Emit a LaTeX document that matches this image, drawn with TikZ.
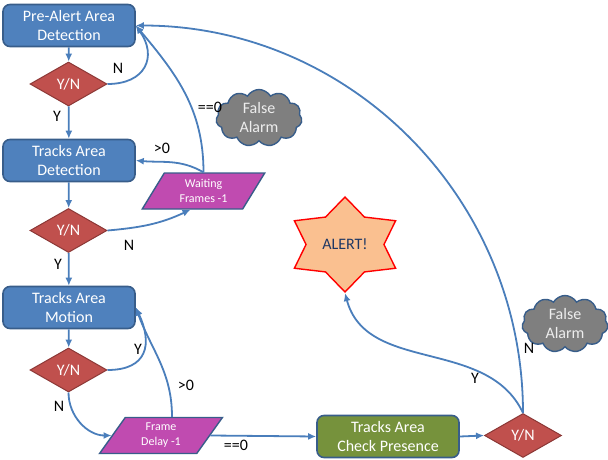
\documentclass[tikz,border=0pt]{standalone}
\usepackage{fontspec}
\setmainfont{Carlito}
\usetikzlibrary{calc,shapes.geometric,shapes.symbols,arrows.meta}

\definecolor{boxblue}{HTML}{4F81BD}
\definecolor{boxline}{HTML}{385D8A}
\definecolor{dmdred}{HTML}{C0504D}
\definecolor{dmdline}{HTML}{8C3836}
\definecolor{iomag}{HTML}{C04BB0}
\definecolor{chkgreen}{HTML}{76923C}
\definecolor{cloudgray}{HTML}{7F7F7F}
\definecolor{cloudtext}{HTML}{EDEDED}
\definecolor{starfill}{HTML}{FAC090}
\definecolor{wire}{HTML}{4A7EBB}
\definecolor{alertink}{HTML}{1F3864}

\tikzset{
	procbox/.style={draw=boxline, fill=boxblue, line width=1.6pt, rounded corners=7pt,
		minimum width=132pt, minimum height=42pt, inner sep=0pt, align=center,
		text=white, font=\fontsize{16}{19}\selectfont},
	chkbox/.style={procbox, fill=chkgreen, minimum width=142pt},
	yesno/.style={diamond, draw=dmdline, fill=dmdred, line width=1pt, inner sep=0pt,
		minimum width=77pt, minimum height=44pt, text=white, font=\fontsize{16}{19}\selectfont},
	iobox/.style={trapezium, trapezium left angle=60, trapezium right angle=120,
		trapezium stretches=true, draw=boxline, fill=iomag, line width=1.4pt, inner sep=0pt,
		minimum width=123pt, minimum height=36pt, align=center, text=white,
		font=\fontsize{12}{15}\selectfont},
	falsebox/.style={cloud, cloud puffs=11, cloud puff arc=120, aspect=1.5, draw=boxline,
		fill=cloudgray, line width=1.4pt, inner sep=0pt, minimum width=86pt, minimum height=57pt,
		align=center, text=cloudtext, font=\fontsize{16}{19}\selectfont},
	alertstar/.style={star, star points=6, star point ratio=1.5, draw=red, fill=starfill,
		line width=1.4pt, inner sep=0pt, minimum size=95pt, xscale=1.23},
	lbl/.style={inner sep=0pt, font=\fontsize{16}{18}\selectfont},
	wire/.style={draw=wire, line width=1.8pt, -{Latex[length=8pt,width=7pt]}}
}

\begin{document}
\begin{tikzpicture}[x=1pt, y=1pt]
	\useasboundingbox (0,0) rectangle (608,459);

	%%%%% BLOCKS %%%%%
	\node[procbox] (pa) at (69,433.5) {Pre-Alert Area\\Detection};
	\node[yesno] (d1) at (68.5,375) {Y/N};
	\node[procbox] (tad) at (69,298.5) {Tracks Area\\Detection};
	\node[yesno] (d2) at (68.5,228.5) {Y/N};
	\node[procbox] (tam) at (69,151.5) {Tracks Area\\Motion};
	\node[yesno] (d3) at (68.5,89) {Y/N};
	\node[iobox] (wf) at (203.5,268) {Waiting\\Frames -1};
	\node[iobox] (fd) at (161,23.5) {Frame\\Delay -1};
	\node[chkbox] (cp) at (388,22.5) {Tracks Area\\Check Presence};
	\node[yesno] (d4) at (523,23.5) {Y/N};
	\node[falsebox] (fa1) at (259,341) {False\\Alarm};
	\node[falsebox] (fa2) at (565,135) {False\\Alarm};
	\node[alertstar] (alert) at (345,214.5) {};
	\node[text=alertink, font=\fontsize{16}{19}\selectfont] (alerttxt) at (alert.center) {ALERT!};

	\coordinate (wbot) at ($(wf.south)+(-13,0)$);
	\coordinate (fdtop) at ($(fd.north)+(11,0)$);

	%%%%% CONNECTORS %%%%%
	\draw[wire] (pa) -- (d1);
	\draw[wire] (d1) -- (tad);
	\draw[wire] (d1.east) to[out=0,in=-55,looseness=1.5] (pa.east);
	\draw[wire] (tad) -- (d2);
	\draw[wire] (d2.east) to[out=5,in=-155] (wbot);
	\draw[wire] (wf.north) to[out=150,in=-5] (tad.east);
	\draw[wire] (wf.north) to[out=90,in=-50] (pa.east);
	\draw[wire] (d2) -- (tam);
	\draw[wire] (tam) -- (d3);
	\draw[wire] (d3.east) to[out=0,in=-65,looseness=1.5] (tam.east);
	\draw[wire] (d3.south) to[out=-90,in=180] (fd.west);
	\draw[wire] (fdtop) to[out=90,in=-70] (tam.east);
	\draw[wire] (fd.east) -- (cp.west);
	\draw[wire] (cp.east) -- (d4.west);
	\draw[wire] (d4.north) to[out=115,in=-75] (alert.south);
	\draw[wire] (d4.north) to[out=90,in=0] (pa.east);

	%%%%% LABELS %%%%%
	\node[lbl] (n1) at (118,391) {N};
	\node[lbl] (y1) at (57,343) {Y};
	\node[lbl] (eq1) at (210,352) {==0};
	\node[lbl] (gt1) at (162,311) {>0};
	\node[lbl] (n2) at (129,214) {N};
	\node[lbl] (y2) at (58,195) {Y};
	\node[lbl] (y3) at (138,110) {Y};
	\node[lbl] (gt2) at (186,74) {>0};
	\node[lbl] (n3) at (59,53) {N};
	\node[lbl] (eq2) at (236,14) {==0};
	\node[lbl] (y4) at (475,81) {Y};
	\node[lbl] (n4) at (529,111) {N};
\end{tikzpicture}
\end{document}
